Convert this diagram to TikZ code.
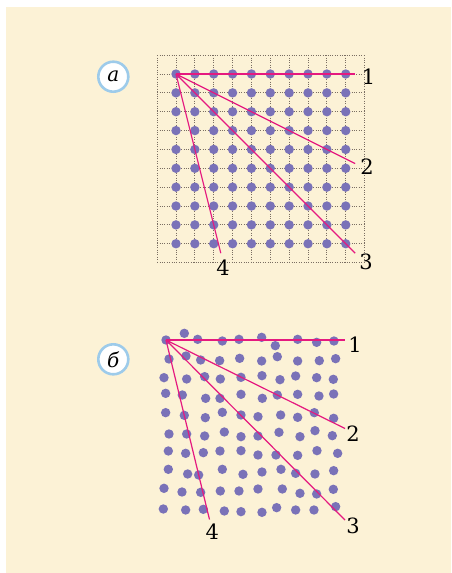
\documentclass[tikz,border=0pt]{standalone}
\usepackage{fontspec}
\setmainfont{DejaVu Serif}
\usepackage{tikz}
\usetikzlibrary{positioning}
\definecolor{cream}{HTML}{FCF2D6}
\definecolor{atomblue}{HTML}{7A72B8}
\definecolor{planepink}{HTML}{E5197F}
\definecolor{tagblue}{HTML}{9DCBEA}
\definecolor{gridbrown}{HTML}{7A6E62}

\begin{document}
\begin{tikzpicture}[
    x=1pt, y=-1pt,
    atom/.style={fill=atomblue},
    plane/.style={draw=planepink, line width=1.2pt},
    gridln/.style={draw=gridbrown, line width=0.8pt, dash pattern=on 0.8pt off 1.6pt},
    tag/.style={circle, draw=tagblue, line width=2.6pt, fill=white, minimum size=30pt, inner sep=0pt, font=\fontsize{20}{23}\selectfont\itshape},
    lbl/.style={font=\fontsize{21}{24}\selectfont, inner sep=0pt}
]
    \useasboundingbox (0,0) rectangle (451,573);
    \fill[cream] (6,7) rectangle (451,573);

    % regular lattice
    \begin{scope}[shift={(176,74)}, x=18.86pt, y=-18.86pt]
        \foreach \i in {-1,...,10} {
            \draw[gridln] (\i,-1) -- (\i,10);
            \draw[gridln] (-1,\i) -- (10,\i);
        }
        \foreach \i in {0,...,9}
            \foreach \j in {0,...,9}
                \fill[atom] (\i,\j) circle (4.7pt);
        \coordinate (Oa) at (0,0);
        \coordinate (Ea1) at (9.5,0);
        \coordinate (Ea2) at (9.5,4.75);
        \coordinate (Ea3) at (9.5,9.5);
        \coordinate (Ea4) at (2.375,9.5);
    \end{scope}
    \draw[plane, line width=1.7pt] (Oa) -- (Ea1);
    \draw[plane] (Oa) -- (Ea2);
    \draw[plane] (Oa) -- (Ea3);
    \draw[plane] (Oa) -- (Ea4);

    \node[tag] (taga) at (113.3,76.7) {a};
    \node[lbl] (na1) at (368.5,76.7) {1};
    \node[lbl] (na2) at (367,167) {2};
    \node[lbl] (na3) at (366,262) {3};
    \node[lbl] (na4) at (223,268) {4};

    % disordered arrangement
    \begin{scope}[shift={(90,310)}, x=0.3333pt, y=-0.3333pt]
        \foreach \p in {
            (228,90),(283,70),(323,88),(397,93),(447,88),(515,82),(556,107),(623,88),(680,97),(732,93),
            (237,147),(288,138),(332,150),(389,152),(449,145),(515,153),(562,140),(623,153),(688,152),(737,146),
            (222,203),(290,207),(344,200),(391,207),(453,202),(516,197),(570,209),(617,198),(680,203),(730,208),
            (227,250),(277,255),(347,265),(390,265),(453,253),(517,265),(562,255),(623,253),(687,258),(731,252),
            (227,308),(283,316),(346,323),(397,307),(453,315),(504,320),(572,315),(623,322),(673,308),(731,325),
            (237,372),(290,372),(344,378),(403,366),(453,380),(504,378),(567,367),(630,380),(675,362),(727,377),
            (235,423),(287,430),(340,428),(390,423),(453,422),(504,435),(558,435),(623,436),(681,422),(743,430),
            (235,478),(293,492),(326,495),(397,478),(459,493),(516,486),(573,478),(617,490),(675,492),(731,482),
            (222,535),(276,546),(332,547),(391,543),(447,543),(504,537),(577,537),(630,550),(680,552),(730,538),
            (220,597),(287,600),(340,598),(403,603),(453,605),(516,607),(560,593),(617,600),(672,600),(737,590)}
            \fill[atom] \p circle (4.7pt);
    \end{scope}
    \coordinate (Ob) at (166,340);
    \coordinate (Eb1) at (345,340);
    \coordinate (Eb2) at (345,428.5);
    \coordinate (Eb3) at (345,520);
    \coordinate (Eb4) at (209.5,519.5);
    \draw[plane] (Ob) -- (Eb1);
    \draw[plane] (Ob) -- (Eb2);
    \draw[plane] (Ob) -- (Eb3);
    \draw[plane] (Ob) -- (Eb4);

    \node[tag] (tagb) at (113.3,359.3) {б};
    \node[lbl] (nb1) at (355,344.3) {1};
    \node[lbl] (nb2) at (353,434) {2};
    \node[lbl] (nb3) at (353,526) {3};
    \node[lbl] (nb4) at (212.3,531.7) {4};
\end{tikzpicture}
\end{document}
